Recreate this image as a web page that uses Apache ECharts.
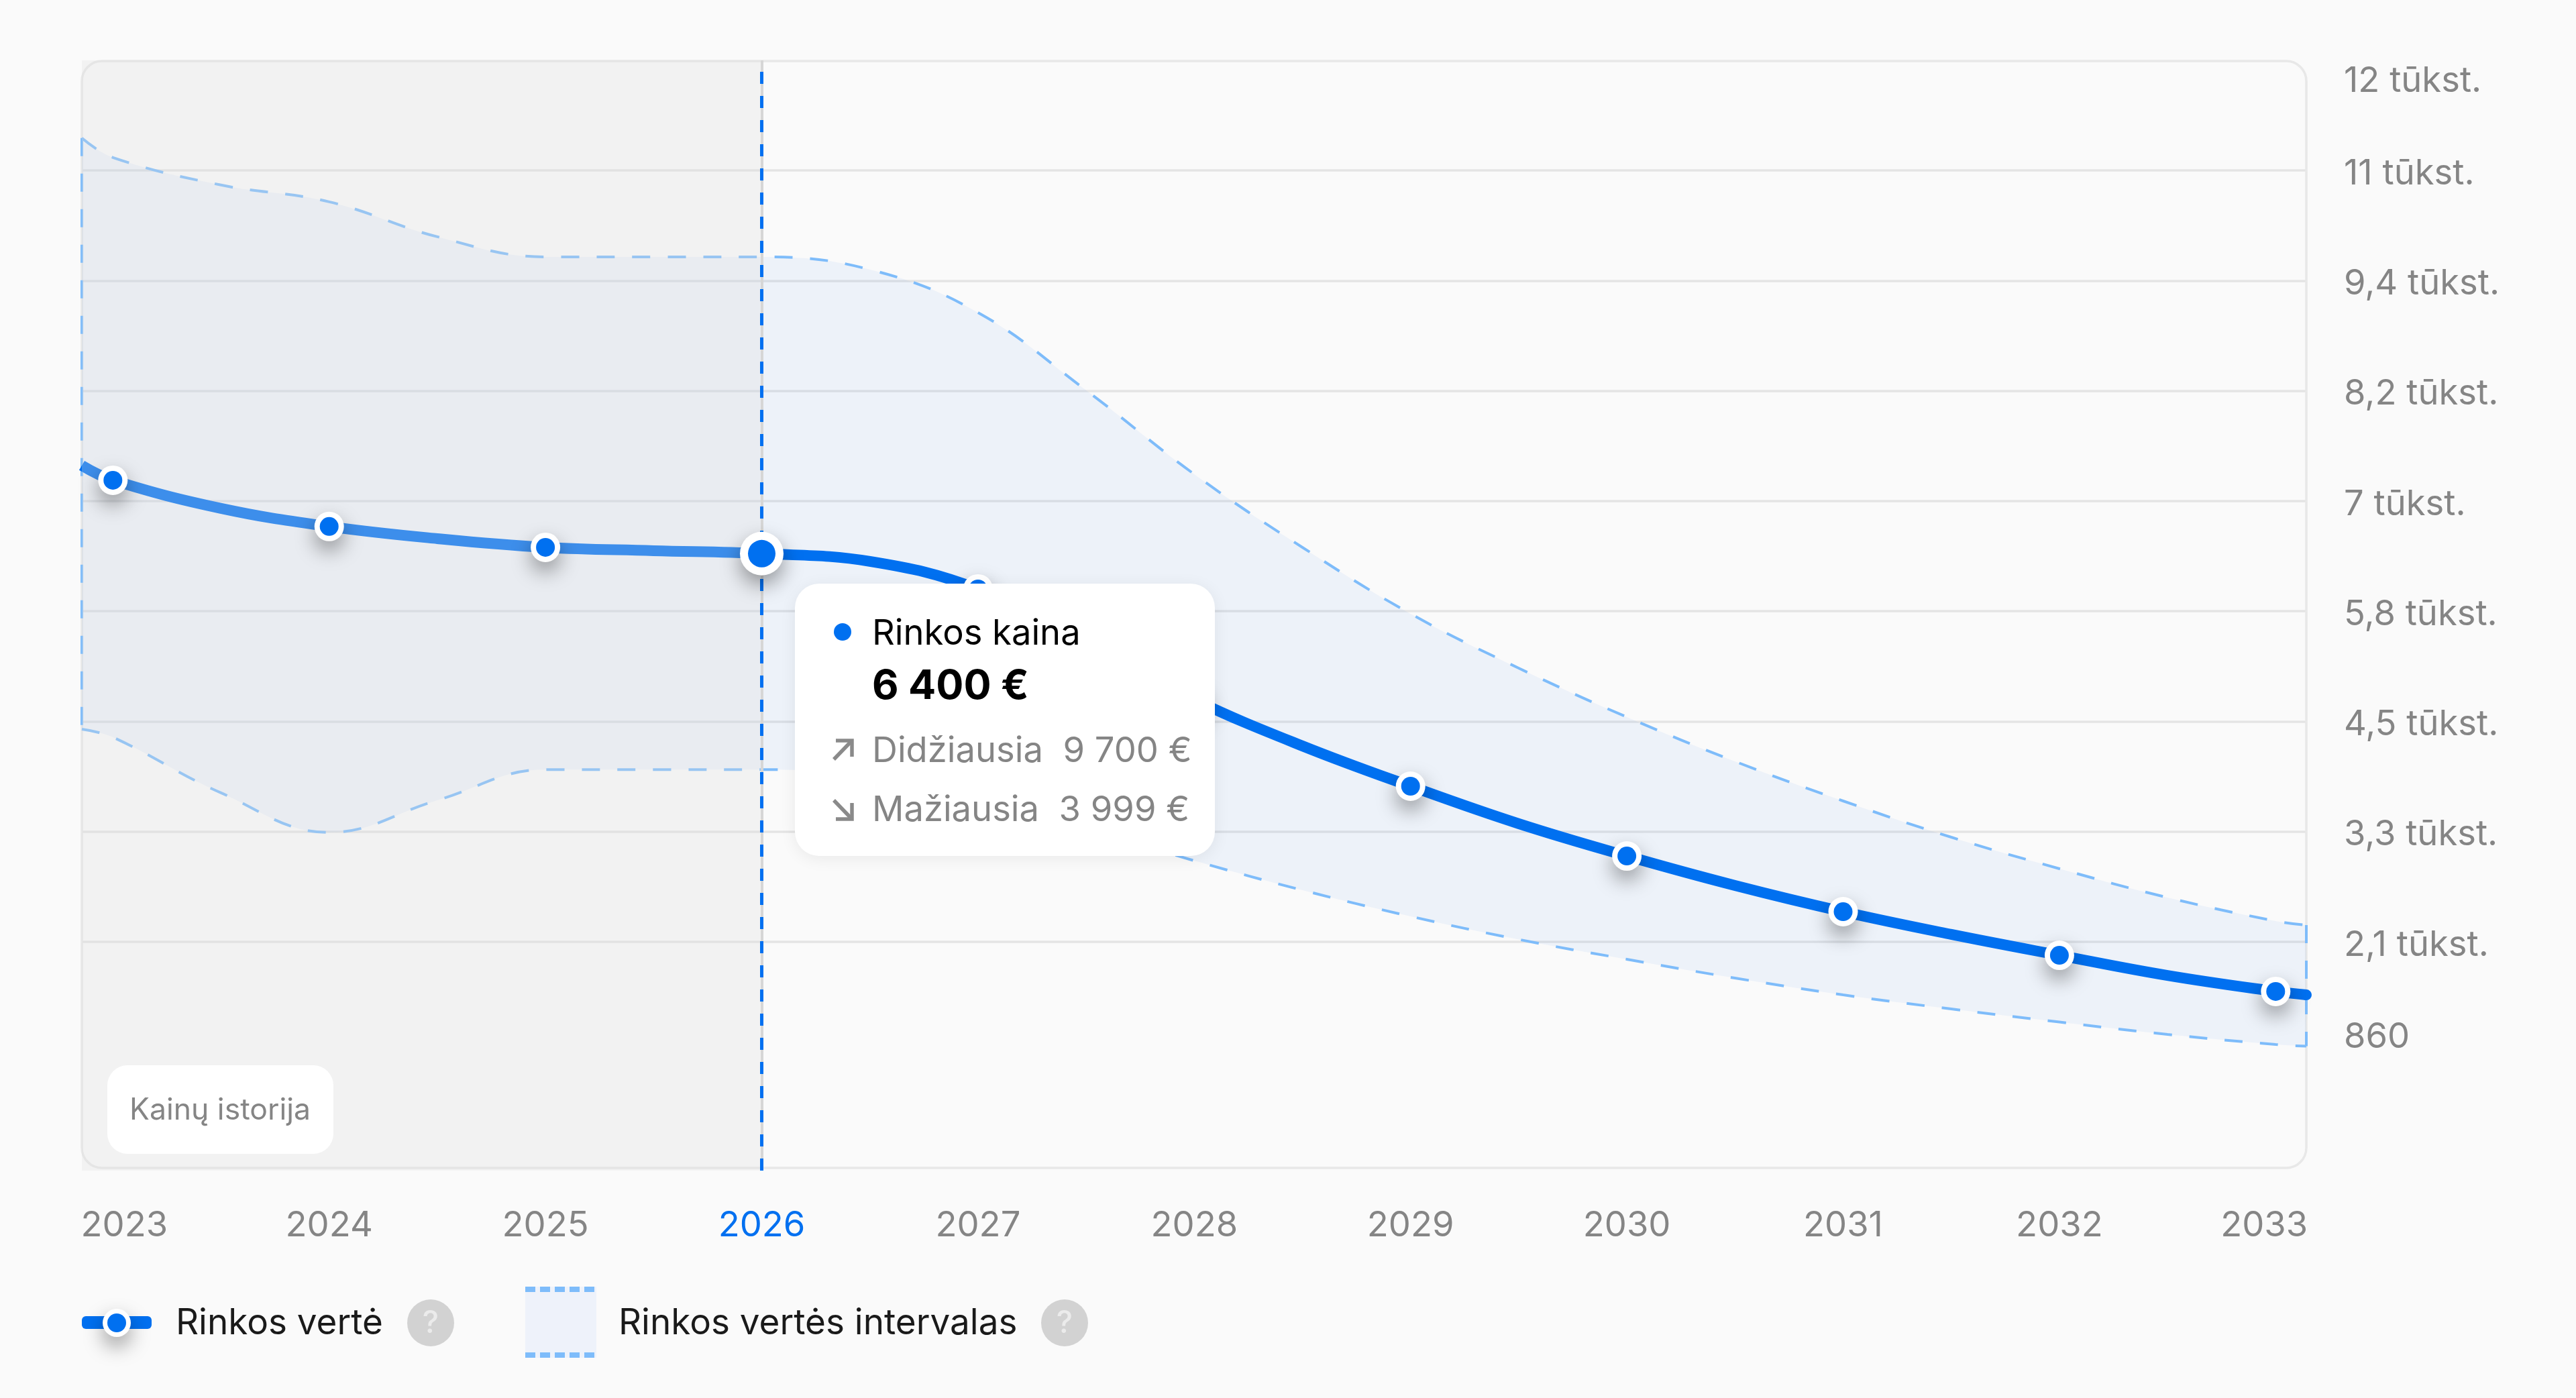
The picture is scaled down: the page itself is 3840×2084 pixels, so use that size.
<!DOCTYPE html>
<html><head><meta charset="utf-8">
<style>html,body{margin:0;padding:0;background:#fafafa}#c{width:3840px;height:2084px}</style>
<script src="https://cdn.jsdelivr.net/npm/echarts@6/dist/echarts.min.js"></script>
</head><body><div id="c"></div>
<script>
const edgeStart = 2022.8564, edgeEnd = 2033.1417;
const years = [edgeStart, 2023, 2023.5, 2024, 2024.5, 2025, 2025.5, 2026, 2026.5, 2027, 2027.5, 2028, 2028.5, 2029, 2029.5, 2030, 2030.5, 2031, 2031.5, 2032, 2032.5, 2033, edgeEnd];
const marketValue = [7380, 7216, 6903, 6702, 6567, 6470, 6433, 6400, 6314, 6008, 5411, 4777, 4262, 3814, 3397, 3038, 2710, 2419, 2166, 1934, 1710, 1532, 1494];
const rangeHigh = [11021, 10805, 10499, 10312, 9924, 9700, 9700, 9700, 9559, 9081, 8216, 7283, 6470, 5732, 5127, 4583, 4090, 3650, 3247, 2897, 2576, 2315, 2270];
const rangeLow = [4448, 4359, 3740, 3300, 3658, 3999, 3999, 3999, 3919, 3680, 3344, 2986, 2658, 2367, 2110, 1890, 1681, 1494, 1337, 1192, 1054, 942, 923];
const xTickYears = [2023, 2024, 2025, 2026, 2027, 2028, 2029, 2030, 2031, 2032, 2033];
const selectedYear = 2026;
const yTicks = [860, 2085, 3310, 4535, 5760, 6985, 8210, 9435, 10660, 11885];
const yTickLabels = ['860', '2,1 tūkst.', '3,3 tūkst.', '4,5 tūkst.', '5,8 tūkst.', '7 tūkst.', '8,2 tūkst.', '9,4 tūkst.', '11 tūkst.', '12 tūkst.'];
const historyLabel = 'Kainų istorija';
const legendValue = 'Rinkos vertė';
const legendRange = 'Rinkos vertės intervalas';
const tipTitle = 'Rinkos kaina';
const tipValue = '6 400 €';
const tipHigh = 'Didžiausia  9 700 €';
const tipLow = 'Mažiausia  3 999 €';

const FONT = 'Inter';
const BLUE = '#0070f0', DASH = '#7ebcfa', GREY = '#858585';
const yMin = -460, yMax = 11885;
// The band series sit on a hidden time axis with the same extent, because ECharts only stacks over a time/category base.
const T = y => Math.round((y - 1970) * 31557600000);
const last = years.length - 1;
const pairs = arr => years.map((x, i) => [x, arr[i]]);
const timePairs = arr => years.map((x, i) => [T(x), arr[i]]);
const xLabelAt = xTickYears.map(y => y === 2023 ? 2023.053 : y === 2033 ? 2032.947 : y);
const yLabelAt = yTicks.map((v, i) => i === 0 ? v + 162 : i === yTicks.length - 1 ? v - 232 : v - 37);
const yGrid = yTicks.slice(1, -1);
const dashStyle = { color: DASH, width: 4, type: [27, 26] };
const yearPoints = pairs(marketValue).filter(p => xTickYears.includes(p[0]));
const shadow = { shadowColor: 'rgba(0,0,0,0.38)', shadowBlur: 30, shadowOffsetY: 14 };
const SMOOTH = 0.4;

const txt = (text, x, y, size, fill, weight, z, align) => ({
  type: 'text', z: z, silent: true,
  style: { text, x, y, fontFamily: FONT, fontSize: size, fontWeight: weight || 400, fill, align: align || 'left', verticalAlign: 'middle' }
});
const poly = (points, z) => ({ type: 'polyline', z, shape: { points }, style: { stroke: '#8a8a8a', lineWidth: 5.5, fill: null } });
const swatchDashes = [];
[1922, 2020].forEach(y => { [783, 805, 827, 849, 871].forEach(x => swatchDashes.push({ type: 'rect', z: 2, shape: { x, y: y - 4, width: 15, height: 8 }, style: { fill: DASH } })); });

const chart = echarts.init(document.getElementById('c'), null, { width: 3840, height: 2084, renderer: 'canvas' });
chart.setOption({
  animation: false,
  backgroundColor: '#fafafa',
  grid: { left: 122, top: 90, width: 3316, height: 1655, containLabel: false },
  xAxis: [{
    type: 'value', min: edgeStart, max: edgeEnd,
    axisLine: { show: false },
    axisTick: { show: false, customValues: xLabelAt },
    splitLine: { show: false },
    axisLabel: {
      customValues: xLabelAt, margin: 56, fontFamily: FONT, fontSize: 52.5, color: GREY,
      formatter: (v) => {
        const y = xTickYears[xLabelAt.indexOf(v)];
        return y === selectedYear ? '{sel|' + y + '}' : String(y);
      },
      rich: { sel: { color: BLUE, fontFamily: FONT, fontSize: 52.5 } }
    }
  }, {
    type: 'time', min: T(edgeStart), max: T(edgeEnd), show: false
  }],
  yAxis: {
    type: 'value', position: 'right', min: yMin, max: yMax,
    axisLine: { show: false },
    axisTick: { show: false, customValues: yGrid },
    splitLine: { show: true, lineStyle: { color: '#e4e4e4', width: 3.5 } },
    axisLabel: {
      customValues: yLabelAt, margin: 56, fontFamily: FONT, fontSize: 52.5, color: GREY,
      formatter: v => yTickLabels[yLabelAt.indexOf(v)]
    }
  },
  series: [
    { type: 'line', name: 'low', xAxisIndex: 1, stack: 'band', smooth: SMOOTH, symbol: 'none', z: 2, lineStyle: dashStyle, data: timePairs(rangeLow) },
    { type: 'line', name: 'high', xAxisIndex: 1, stack: 'band', smooth: SMOOTH, symbol: 'none', z: 2, lineStyle: dashStyle,
      areaStyle: { color: 'rgba(0,90,230,0.052)', opacity: 1 }, data: timePairs(rangeHigh.map((v, i) => v - rangeLow[i])) },
    { type: 'line', name: 'edgeL', symbol: 'none', z: 2, lineStyle: dashStyle, data: [[edgeStart, rangeHigh[0]], [edgeStart, rangeLow[0]]] },
    { type: 'line', name: 'edgeR', symbol: 'none', z: 2, lineStyle: dashStyle, data: [[edgeEnd, rangeHigh[last]], [edgeEnd, rangeLow[last]]] },
    {
      type: 'line', name: legendValue, smooth: SMOOTH, symbol: 'none', z: 2,
      lineStyle: { color: BLUE, width: 16 }, data: pairs(marketValue),
      markArea: { silent: true, z: 3, itemStyle: { color: 'rgba(221,221,221,0.276)' }, data: [[{ xAxis: edgeStart, yAxis: yMin }, { xAxis: selectedYear, yAxis: yMax }]] },
      markLine: {
        silent: true, z: 4, symbol: 'none', label: { show: false }, animation: false,
        data: [
          { xAxis: selectedYear, lineStyle: { color: '#d6d6d6', width: 4, type: 'solid' } },
          { xAxis: selectedYear, lineStyle: { color: BLUE, width: 5, type: [18, 18] } }
        ]
      }
    },
    { type: 'scatter', name: 'pointsHalo', z: 5, symbolSize: 44, clip: false, itemStyle: Object.assign({ color: '#fff', opacity: 1 }, shadow), data: yearPoints.filter(p => p[0] !== selectedYear) },
    { type: 'scatter', name: 'points', z: 6, symbolSize: 28, clip: false, itemStyle: { color: BLUE, opacity: 1 }, data: yearPoints.filter(p => p[0] !== selectedYear) },
    { type: 'scatter', name: 'selectedHalo', z: 7, symbolSize: 65, clip: false, itemStyle: Object.assign({ color: '#fff', opacity: 1 }, shadow), data: yearPoints.filter(p => p[0] === selectedYear) },
    { type: 'scatter', name: 'selected', z: 8, symbolSize: 41, clip: false, itemStyle: { color: BLUE, opacity: 1 }, data: yearPoints.filter(p => p[0] === selectedYear) },
    { type: 'scatter', name: 'lineEnd', z: 2, symbolSize: 16, clip: false, itemStyle: { color: BLUE, opacity: 1 }, data: [[edgeEnd, marketValue[last]]] }
  ],
  graphic: [
    { type: 'rect', z: 1, silent: true, shape: { x: 122, y: 91, width: 3316, height: 1650, r: 30 }, style: { fill: null, stroke: '#e8e8e8', lineWidth: 3.5 } },
    { type: 'rect', z: 20, shape: { x: 160, y: 1588, width: 337, height: 132, r: 30 }, style: { fill: '#fff' } },
    txt(historyLabel, 328, 1656, 44.5, GREY, 400, 21, 'center'),
    // tooltip
    { type: 'rect', z: 50, shape: { x: 1185, y: 870, width: 626, height: 406, r: 36 }, style: { fill: '#fff', shadowColor: 'rgba(0,0,0,0.07)', shadowBlur: 24, shadowOffsetY: 4 } },
    { type: 'circle', z: 51, shape: { cx: 1256, cy: 942, r: 13 }, style: { fill: BLUE } },
    txt(tipTitle, 1300, 945, 52.5, '#000', 400, 51),
    txt(tipValue, 1300, 1024, 61, '#000', 700, 51),
    txt(tipHigh, 1300, 1120, 52.5, GREY, 400, 51),
    txt(tipLow, 1300, 1208, 52.5, GREY, 400, 51),
    poly([[1243, 1132], [1270, 1104]], 51), poly([[1246, 1104], [1270, 1104], [1270, 1128]], 51),
    poly([[1243, 1193], [1270, 1221]], 51), poly([[1246, 1221], [1270, 1221], [1270, 1197]], 51),
    // legend
    { type: 'rect', z: 2, shape: { x: 122, y: 1962, width: 104, height: 19, r: 6 }, style: { fill: BLUE } },
    { type: 'circle', z: 3, shape: { cx: 174, cy: 1972, r: 21 }, style: Object.assign({ fill: '#fff' }, shadow) },
    { type: 'circle', z: 4, shape: { cx: 174, cy: 1972, r: 14 }, style: { fill: BLUE } },
    txt(legendValue, 262, 1973, 53, '#1a1a1a', 400, 3),
    { type: 'circle', z: 3, shape: { cx: 642, cy: 1972, r: 35 }, style: { fill: '#d2d2d2' } },
    txt('?', 642, 1973, 46, '#ebebeb', 500, 4, 'center'),
    { type: 'rect', z: 1, shape: { x: 783, y: 1918, width: 106, height: 106 }, style: { fill: '#eef2fa' } },
    ...swatchDashes,
    txt(legendRange, 922, 1973, 53, '#1a1a1a', 400, 3),
    { type: 'circle', z: 3, shape: { cx: 1587, cy: 1972, r: 35 }, style: { fill: '#d2d2d2' } },
    txt('?', 1587, 1973, 46, '#ebebeb', 500, 4, 'center')
  ]
});
</script></body></html>
